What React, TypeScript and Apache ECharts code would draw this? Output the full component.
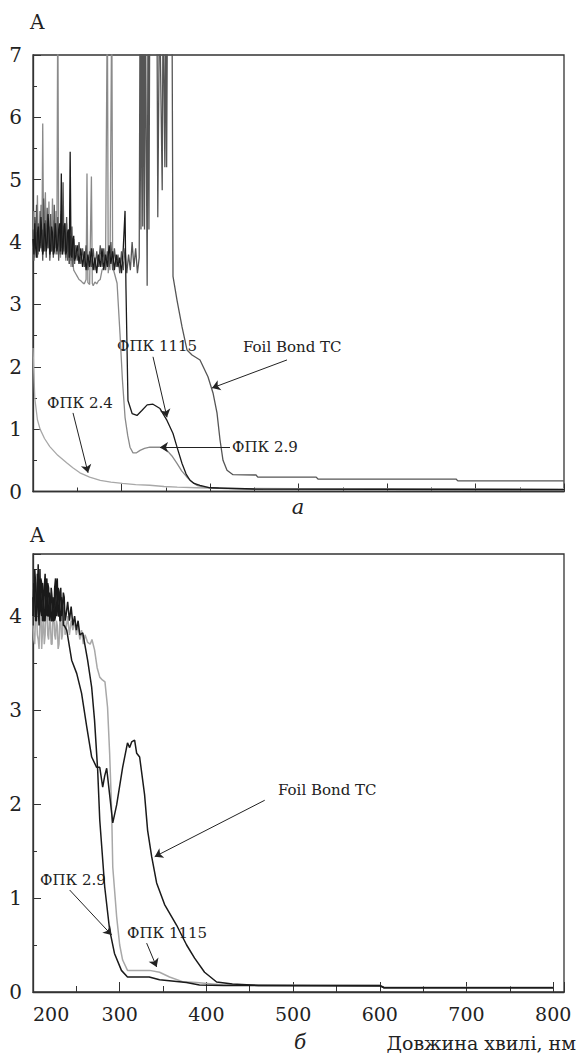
import React, { useEffect, useRef } from "react";
import * as echarts from "echarts";

// ---------- Panel a (top) ----------
const topFpk24: [number, number][] = [
  [200, 2.3], [201, 1.9], [202, 1.5], [205, 1.15], [208, 1.0], [213, 0.85], [219, 0.72], [228, 0.58],
  [238, 0.46], [245, 0.38], [253, 0.3], [264, 0.23], [276, 0.18], [288, 0.15], [301, 0.13], [316, 0.11],
  [332, 0.1], [348, 0.08], [363, 0.07], [385, 0.06], [410, 0.05], [500, 0.045], [800, 0.04],
];

const topFpk29: [number, number][] = [
  [200, 3.9], [201, 4.5], [202, 3.75], [203, 4.3], [204, 3.95], [205, 4.75], [206, 3.8], [207, 4.2],
  [208, 4.0], [209, 4.6], [210, 3.85], [211, 5.9], [212, 3.95], [213, 4.4], [214, 4.8], [215, 3.8],
  [216, 4.3], [217, 3.9], [218, 4.65], [219, 3.75], [220, 4.2], [221, 3.85], [222, 4.7], [223, 3.9],
  [224, 4.35], [225, 3.8], [226, 4.5], [227, 4.0], [228, 8], [229, 4.0], [230, 4.25], [231, 3.75],
  [232, 4.5], [233, 3.85], [234, 4.6], [235, 3.8], [236, 4.2], [237, 3.7], [238, 4.3], [239, 3.75],
  [240, 4.05], [241, 3.65], [242, 4.1], [243, 3.6], [244, 3.8], [246, 3.55], [248, 3.5], [250, 3.45],
  [252, 3.4], [254, 3.38], [256, 3.35], [258, 3.33], [260, 3.4], [261, 5.1], [262, 3.35], [264, 3.32],
  [266, 5.05], [267, 3.34], [268, 3.3], [270, 3.36], [272, 3.33], [274, 3.38], [276, 3.4], [278, 3.55],
  [280, 3.6], [282, 3.7], [284, 8], [285, 3.5], [286, 3.75], [287, 3.55], [289, 8], [290, 3.6],
  [292, 3.5], [295, 3.34], [298.3, 2.53], [301, 1.8], [304, 1.19], [307, 0.9], [309.6, 0.71],
  [313, 0.62], [317, 0.62], [321, 0.66], [326, 0.69], [332, 0.71], [343.5, 0.71], [351.4, 0.66],
  [357, 0.57], [362.7, 0.45], [368, 0.33], [374, 0.23], [380, 0.15], [385, 0.1], [393, 0.07],
  [410, 0.05], [460, 0.03], [800, 0.02],
];

const topFoilBond: [number, number][] = [
  [200, 4.2], [201, 3.7], [202, 4.4], [203, 3.9], [204, 4.6], [205, 3.75], [206, 4.3], [207, 3.85],
  [208, 4.5], [209, 3.9], [210, 4.2], [211, 3.7], [212, 4.7], [213, 3.85], [214, 4.35], [215, 3.75],
  [216, 4.55], [217, 3.9], [218, 4.25], [219, 3.7], [220, 4.45], [221, 3.85], [222, 4.1], [223, 3.75],
  [224, 4.6], [225, 3.9], [226, 4.3], [227, 3.8], [228, 4.4], [229, 3.7], [230, 4.15], [231, 3.8],
  [232, 4.45], [233, 3.9], [234, 4.96], [235, 3.85], [236, 4.3], [237, 3.75], [238, 4.4], [239, 3.7],
  [240, 4.2], [241, 3.65], [242, 4.1], [243, 3.7], [244, 4.25], [245, 3.6], [246, 4.05], [247, 3.65],
  [248, 3.95], [250, 3.7], [252, 4.0], [254, 3.65], [256, 3.9], [258, 3.6], [260, 3.95], [262, 3.55],
  [264, 3.85], [266, 3.6], [268, 3.9], [270, 3.55], [272, 3.85], [274, 3.6], [276, 3.95], [278, 3.6],
  [280, 3.9], [282, 3.55], [284, 3.85], [286, 3.6], [288, 4.0], [290, 3.55], [292, 3.9], [294, 3.6],
  [296, 3.8], [298, 3.5], [300, 3.85], [302, 3.55], [304, 3.9], [306, 3.5], [308, 3.8], [310, 3.55],
  [312, 4.0], [314, 3.6], [316, 3.9], [318, 3.5], [320, 3.75], [321, 8], [322, 4.2], [323, 8],
  [324, 4.25], [325, 8], [326, 4.2], [327, 8], [329, 3.3], [330, 8], [331, 4.2], [332, 8], [340, 8],
  [341, 4.4], [343, 8], [346, 4.83], [347, 8], [349, 5.2], [350, 8], [351, 5.2], [352, 8], [357, 8],
  [358.2, 3.45], [362.7, 3.07], [368.4, 2.64], [374, 2.27], [379.7, 2.19], [388.7, 2.11],
  [397.7, 1.84], [403.4, 1.58], [407.9, 1.26], [411.3, 0.83], [414.7, 0.5], [419.2, 0.34],
  [426, 0.27], [452, 0.265], [454, 0.23], [520, 0.23], [522, 0.2], [678, 0.2], [680, 0.17], [800, 0.17],
];

const topFpk1115: [number, number][] = [
  [200, 4.05], [201, 3.8], [202, 4.3], [203, 3.9], [204, 3.75], [205, 4.15], [206, 4.25], [207, 3.85],
  [208, 3.95], [209, 4.4], [210, 4.1], [211, 3.8], [212, 3.9], [213, 4.3], [214, 4.1], [215, 3.85],
  [216, 4.0], [217, 4.45], [218, 4.2], [219, 3.8], [220, 3.9], [221, 4.25], [222, 4.15], [223, 3.8],
  [224, 3.85], [225, 4.3], [226, 4.1], [227, 3.85], [228, 3.95], [229, 4.2], [230, 4.3], [231, 3.85],
  [232, 5.1], [233, 3.8], [234, 3.9], [235, 4.25], [236, 4.3], [237, 3.8], [238, 3.85], [239, 4.15],
  [240, 4.2], [241, 3.75], [242, 5.45], [243, 3.8], [244, 3.75], [245, 4.05], [246, 4.1], [247, 3.7],
  [248, 3.75], [250, 3.95], [252, 3.65], [254, 3.9], [256, 3.6], [258, 3.85], [260, 3.55], [262, 3.8],
  [264, 3.6], [266, 3.9], [268, 3.55], [270, 3.75], [272, 3.5], [274, 3.8], [276, 3.6], [278, 3.9],
  [280, 3.55], [282, 3.8], [284, 3.6], [286, 3.95], [288, 3.65], [290, 3.85], [292, 3.55], [294, 3.8],
  [296, 3.6], [298, 3.75], [300, 3.5], [302, 3.9], [304, 4.5], [305, 3.3], [307.3, 1.46], [312, 1.25],
  [317.5, 1.22], [323, 1.3], [329, 1.39], [335.6, 1.4], [343.5, 1.33], [351.4, 1.14], [358.2, 0.93],
  [363, 0.7], [368.4, 0.45], [373, 0.28], [377.4, 0.18], [382, 0.13], [388.7, 0.1], [400, 0.06],
  [450, 0.04], [800, 0.03],
];

// ---------- Panel b (bottom) ----------
const botFpk1115: [number, number][] = [
  [200, 3.9], [201, 3.75], [202, 3.7], [203, 4.05], [204, 4.1], [205, 3.8], [206, 3.75], [207, 3.65],
  [208, 3.95], [209, 4.15], [210, 3.65], [211, 3.85], [212, 4.0], [213, 3.7], [214, 3.8], [215, 4.1],
  [216, 4.15], [217, 3.8], [218, 3.75], [219, 3.95], [220, 3.95], [221, 3.7], [222, 3.7], [223, 4.0],
  [224, 4.05], [225, 3.8], [226, 3.75], [227, 3.95], [228, 3.9], [229, 3.65], [230, 3.7], [231, 3.95],
  [232, 4.0], [233, 3.75], [234, 3.8], [235, 4.05], [236, 4.1], [237, 3.8], [238, 3.85], [240, 4.0],
  [242, 3.8], [244, 3.95], [246, 3.85], [248, 3.95], [250, 3.8], [252, 3.9], [254, 3.75], [256, 3.85],
  [258, 3.7], [260, 3.8], [263, 3.72], [266, 3.7], [268, 3.75], [271, 3.64], [274, 3.45], [277, 3.35],
  [280, 3.32], [283, 3.3], [286, 3.03], [288.4, 2.54], [290.7, 1.94], [292, 1.33], [296.5, 0.8],
  [300, 0.5], [303.4, 0.34], [309, 0.23], [334.5, 0.23], [346, 0.21], [357.5, 0.16], [372.5, 0.11],
  [388.5, 0.1], [420, 0.075], [600, 0.07], [605, 0.05], [800, 0.05],
];

const botFpk29: [number, number][] = [
  [200, 4.0], [201, 4.35], [202, 4.3], [203, 3.95], [204, 3.95], [205, 4.45], [206, 4.1], [207, 3.9],
  [208, 4.5], [209, 4.05], [210, 4.0], [211, 4.35], [212, 4.25], [213, 3.95], [214, 3.95], [215, 4.3],
  [216, 4.4], [217, 4.0], [218, 4.0], [219, 4.25], [220, 4.2], [221, 3.95], [222, 3.95], [223, 4.2],
  [224, 4.15], [225, 3.95], [226, 4.0], [227, 4.35], [228, 4.4], [229, 4.0], [230, 4.0], [231, 4.25],
  [232, 4.3], [233, 4.0], [234, 4.05], [235, 4.25], [236, 4.2], [237, 3.95], [238, 4.0], [240, 4.15],
  [242, 3.95], [244, 4.1], [246, 3.9], [248, 4.0], [250, 3.85], [252, 3.95], [254, 3.8], [257.4, 3.82],
  [263, 3.53], [267.7, 3.24], [271, 2.89], [274.6, 2.36], [277, 1.83], [282.7, 1.12], [288.4, 0.66],
  [294, 0.41], [302, 0.23], [309, 0.16], [334, 0.16], [346, 0.13], [377, 0.1], [392, 0.075],
  [420, 0.07], [600, 0.065], [605, 0.045], [800, 0.045],
];

const botFoilBond: [number, number][] = [
  [200, 4.2], [201, 4.0], [202, 4.5], [203, 4.35], [204, 4.0], [205, 4.2], [206, 4.55], [207, 4.05],
  [208, 4.1], [209, 4.4], [210, 4.35], [211, 3.95], [212, 3.95], [213, 4.3], [214, 4.45], [215, 4.0],
  [216, 4.05], [217, 4.35], [218, 4.3], [219, 3.95], [220, 4.0], [221, 4.3], [222, 4.2], [223, 3.95],
  [224, 3.95], [225, 4.3], [226, 4.4], [227, 4.0], [228, 4.05], [229, 4.3], [230, 4.25], [231, 3.95],
  [232, 3.95], [233, 4.2], [234, 4.15], [235, 3.9], [236, 3.9], [238.9, 3.85], [244.6, 3.53],
  [250.4, 3.39], [256, 3.18], [262, 2.82], [267.7, 2.5], [273.4, 2.39], [277, 2.39], [280.4, 2.18],
  [282.7, 2.3], [285, 2.38], [288.4, 2.1], [292, 1.8], [296.5, 1.99], [303.4, 2.39], [309, 2.65],
  [311.5, 2.6], [313.8, 2.66], [317.2, 2.68], [319.6, 2.54], [323, 2.5], [328.7, 2.1], [332.2, 1.72],
  [336.9, 1.44], [342.6, 1.16], [351.8, 0.93], [365.7, 0.71], [377.2, 0.5], [386.4, 0.36],
  [397.9, 0.21], [411.8, 0.106], [430, 0.085], [460, 0.07], [600, 0.07], [605, 0.045], [800, 0.045],
];

const fontSerif = '"DejaVu Serif", "Liberation Serif", serif';
const ink = "#222";

function arrow(from: [number, number], to: [number, number]) {
  return [
    { coord: from, symbol: "none" },
    { coord: to, symbol: "arrow" },
  ];
}

export default function App() {
  const ref = useRef<HTMLDivElement>(null);
  useEffect(() => {
    if (!ref.current) return;
    const chart = echarts.init(ref.current, undefined, { renderer: "svg" });

    const axisLineStyle = { color: "#333", width: 1.3 };
    const mkY = (gridIndex: number, max: number) => ({
      type: "value",
      gridIndex,
      min: 0,
      max,
      interval: 1,
      axisLine: { show: true, lineStyle: axisLineStyle },
      axisTick: { show: true, inside: true, length: 8, lineStyle: { color: "#333", width: 1 } },
      minorTick: { show: true, splitNumber: 2, length: 4, lineStyle: { color: "#333", width: 1 } },
      splitLine: { show: false },
      axisLabel: {
        show: true,
        margin: 11,
        fontFamily: fontSerif,
        fontSize: 20,
        color: ink,
        showMaxLabel: gridIndex === 0,
      },
    });
    const mkX = (gridIndex: number, max: number, showLabels: boolean) => ({
      type: "value",
      gridIndex,
      min: 200,
      max,
      interval: 100,
      axisLine: { show: true, lineStyle: axisLineStyle },
      axisTick: { show: true, inside: true, length: showLabels ? 10 : 8, lineStyle: { color: "#333", width: 1 } },
      minorTick: { show: true, splitNumber: 2, length: showLabels ? 6 : 4, lineStyle: { color: "#333", width: 1 } },
      splitLine: { show: false },
      axisLabel: {
        show: showLabels,
        margin: 12,
        fontFamily: fontSerif,
        fontSize: 19,
        color: ink,
        showMaxLabel: false,
        alignMinLabel: "left",
      },
    });

    const line = (
      name: string,
      data: [number, number][],
      color: string,
      idx: number,
      width = 1.3,
      markLines?: any[]
    ) => ({
      name,
      type: "line",
      xAxisIndex: idx,
      yAxisIndex: idx,
      data,
      showSymbol: false,
      symbol: "none",
      clip: true,
      lineStyle: { color, width },
      emphasis: { disabled: true },
      ...(markLines
        ? {
            markLine: {
              silent: true,
              symbolSize: 8,
              label: { show: false },
              lineStyle: { color: ink, width: 1, type: "solid" },
              emphasis: { disabled: true },
              data: markLines,
            },
          }
        : {}),
    });

    const txt = (x: number, y: number, text: string, size: number, align = "left", italic = false) => ({
      type: "text",
      x,
      y,
      silent: true,
      style: {
        text,
        fill: ink,
        font: `${italic ? "italic " : ""}${size}px ${fontSerif}`,
        align,
        verticalAlign: "middle",
      },
    });

    chart.setOption({
      animation: false,
      backgroundColor: "#fff",
      grid: [
        { left: 33, top: 55, right: 14, height: 436.5, show: true, borderColor: "#333", borderWidth: 1.3 },
        { left: 33, top: 554, right: 14, height: 438, show: true, borderColor: "#333", borderWidth: 1.3 },
      ],
      xAxis: [mkX(0, 800, false), mkX(1, 812.5, true)],
      yAxis: [mkY(0, 7), mkY(1, 4.66)],
      series: [
        line("ФПК 2.4", topFpk24, "#a8a8a8", 0, 1.3, [
          arrow([245.2, 1.26], [262.2, 0.3]),
          arrow([335.6, 2.16], [351.4, 1.19]),
          arrow([422.6, 0.71], [343.5, 0.71]),
          arrow([487, 2.11], [402.3, 1.66]),
        ]),
        line("ФПК 2.9", topFpk29, "#8a8a8a", 0),
        line("Foil Bond TC", topFoilBond, "#555555", 0),
        line("ФПК 1115", topFpk1115, "#1a1a1a", 0),
        line("ФПК 1115 б", botFpk1115, "#a8a8a8", 1, 1.5, [
          arrow([467.3, 2.04], [340.4, 1.44]),
          arrow([242.3, 1.085], [290.7, 0.606]),
          arrow([331.1, 0.52], [342.6, 0.266]),
        ]),
        line("ФПК 2.9 б", botFpk29, "#1a1a1a", 1, 1.5),
        line("Foil Bond TC б", botFoilBond, "#1a1a1a", 1, 1.5),
      ],
      graphic: [
        txt(30, 22, "A", 20),
        txt(30, 535, "A", 20),
        txt(298, 507, "а", 21, "center", true),
        txt(300, 1042, "б", 20, "center", true),
        txt(576, 1043, "Довжина хвилі, нм", 19, "right"),
        txt(47, 403, "ФПК 2.4", 15),
        txt(117, 346, "ФПК 1115", 15),
        txt(232, 447, "ФПК 2.9", 15),
        txt(243, 347, "Foil Bond TC", 15),
        txt(278, 790, "Foil Bond TC", 15),
        txt(40, 880, "ФПК 2.9", 15),
        txt(127, 933, "ФПК 1115", 15),
      ],
    });
    return () => chart.dispose();
  }, []);
  return (
    <div
      ref={ref}
      style={{ position: "absolute", left: 0, top: 0, width: 578, height: 1056, background: "#fff" }}
    />
  );
}
